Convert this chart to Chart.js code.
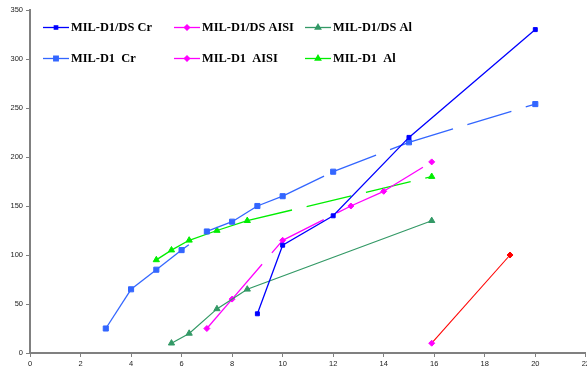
<!DOCTYPE html>
<html>
<head>
<meta charset="utf-8">
<script src="https://cdn.jsdelivr.net/npm/chart.js@4.4.1/dist/chart.umd.min.js"></script>
<style>
  html, body { margin: 0; padding: 0; background: #fff; overflow: hidden; }
  #wrap { width: 592px; height: 371px; }
</style>
</head>
<body>
<div id="wrap"><canvas id="mycanvas" width="592" height="371"></canvas></div>
<script>
// legend names, in legend order
var names = ['MIL-D1/DS Cr', 'MIL-D1/DS AISI', 'MIL-D1/DS Al', 'MIL-D1  Cr', 'MIL-D1  AISI', 'MIL-D1  Al'];

// values
var dsCrX = [9, 10, 12, 15, 20];
var dsCrY = [40, 110, 140, 220, 330];
var dsAisiX = [15.9, 19];
var dsAisiY = [10, 100];
var dsAlX = [5.6, 6.3, 7.4, 8.6, 15.9];
var dsAlY = [10, 20, 45, 65, 135];
var d1CrX = [3, 4, 5, 6, 7, 8, 9, 10, 12, 15, 20];
var d1CrY = [25, 65, 85, 105, 124, 134, 150, 160, 185, 215, 254];
var d1AisiX = [7, 8, 10, 12.7, 14, 15.9];
var d1AisiY = [25, 55, 115, 150, 165, 195];
var d1AlX = [5, 5.6, 6.3, 7.4, 8.6, 15.9];
var d1AlY = [95, 105, 115, 125, 135, 180];

var xTicks = [0, 2, 4, 6, 8, 10, 12, 14, 16, 18, 20, 22];
var yTicks = [0, 50, 100, 150, 200, 250, 300, 350];

function pts(xs, ys) {
  var out = [];
  for (var i in xs) out.push({x: xs[i], y: ys[i]});
  return out;
}

// MIL-D1 lines are long-dashed, dash restarts at every point (like the old Excel plot)
function dashed(special) {
  return {
    borderDash: function(c) {
      if (special && c.p0DataIndex == 3) return [15, 40];
      return [46, 15];
    },
    borderDashOffset: function(c) { return c.p0DataIndex % 2 ? 61 : 0; }
  };
}

var colors = ['#0000FF', '#FF00FF', '#339966', '#3366FF', '#FF00FF', '#00EE00'];
var styles = ['rect', 'rectRot', 'triangle', 'rect', 'rectRot', 'triangle'];
var radii = [2.8, 3, 3.6, 3.6, 3, 3.6];

var datasets = [
  {label: names[0], data: pts(dsCrX, dsCrY), borderWidth: 1.3},
  {label: names[1], data: pts(dsAisiX, dsAisiY), borderWidth: 1.1},
  {label: names[2], data: pts(dsAlX, dsAlY), borderWidth: 1.2},
  {label: names[3], data: pts(d1CrX, d1CrY), borderWidth: 1.3, segment: dashed(true)},
  {label: names[4], data: pts(d1AisiX, d1AisiY), borderWidth: 1.3, segment: dashed(false)},
  {label: names[5], data: pts(d1AlX, d1AlY), borderWidth: 1.3, segment: dashed(false)}
];
datasets.forEach(function(d, i) {
  d.showLine = true;
  d.borderColor = colors[i];
  d.backgroundColor = colors[i];
  d.pointBackgroundColor = colors[i];
  d.pointBorderColor = colors[i];
  d.pointBorderWidth = 1;
  d.pointStyle = styles[i];
  d.pointRadius = radii[i];
  d.pointHoverRadius = radii[i];
});
// the DS AISI line itself is red, first marker magenta
datasets[1].borderColor = '#FF0000';
datasets[1].pointBackgroundColor = ['#FF00FF', '#FF0000'];
datasets[1].pointBorderColor = ['#FF00FF', '#FF0000'];

// Excel style legend: short line with the marker on it
var legendPlugin = {
  id: 'xlLegend',
  afterDraw: function(chart) {
    var ctx = chart.ctx;
    var colX = [43, 174, 305];
    var rowY = [27, 58];
    ctx.save();
    for (var i = 0; i < names.length; i++) {
      var x = colX[i % 3], y = rowY[Math.floor(i / 3)];
      ctx.strokeStyle = colors[i];
      ctx.fillStyle = colors[i];
      ctx.lineWidth = 1.3;
      ctx.setLineDash([]);
      ctx.beginPath();
      ctx.moveTo(x, y + 0.5);
      ctx.lineTo(x + 26, y + 0.5);
      ctx.stroke();
      Chart.helpers.drawPoint(ctx, {pointStyle: styles[i], radius: radii[i] - 0.4, rotation: 0, borderWidth: 1}, x + 13, y + 0.5);
      ctx.fillStyle = '#000';
      ctx.font = 'bold 12.4px "Liberation Serif"';
      ctx.textBaseline = 'middle';
      ctx.textAlign = 'left';
      ctx.fillText(names[i], x + 28, y + 1);
    }
    ctx.restore();
  }
};

var axisFont = {family: 'Liberation Sans', size: 7.5};

var ctx = document.getElementById('mycanvas');
var chart = new Chart(ctx, {
  type: 'scatter',
  data: {datasets: datasets},
  options: {
    responsive: false,
    animation: false,
    layout: {padding: {top: 10, left: 0, right: 0, bottom: 0}},
    plugins: {legend: {display: false}, tooltip: {enabled: false}},
    scales: {
      x: {
        type: 'linear', min: 0, max: 22,
        afterBuildTicks: function(s) { s.ticks = xTicks.map(function(v) { return {value: v}; }); },
        afterFit: function(s) { s.height = 18; },
        grid: {drawOnChartArea: false, drawTicks: true, tickLength: 4, color: '#808080', tickWidth: 1},
        border: {display: true, color: '#808080', width: 2},
        ticks: {font: axisFont, color: '#222', padding: 2, maxRotation: 0, autoSkip: false}
      },
      y: {
        type: 'linear', min: 0, max: 350,
        afterBuildTicks: function(s) { s.ticks = yTicks.map(function(v) { return {value: v}; }); },
        afterFit: function(s) { s.width = 30; },
        grid: {drawOnChartArea: false, drawTicks: true, tickLength: 4, color: '#808080', tickWidth: 1},
        border: {display: true, color: '#808080', width: 2},
        ticks: {font: axisFont, color: '#222', padding: 3}
      }
    }
  },
  plugins: [legendPlugin]
});
</script>
</body>
</html>
